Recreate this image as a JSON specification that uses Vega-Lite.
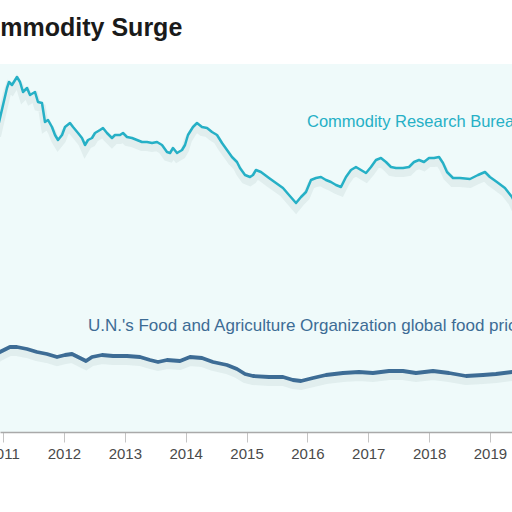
{
  "$schema": "https://vega.github.io/schema/vega-lite/v6.json",
  "autosize": {"type": "none"},
  "width": 512,
  "height": 368,
  "padding": {"top": 64, "left": 0, "right": 0, "bottom": 80},
  "background": "#ffffff",
  "title": {
    "text": "Commodity Surge",
    "anchor": "start",
    "frame": "group",
    "font": "Liberation Sans",
    "fontSize": 25,
    "fontWeight": "bold",
    "color": "#1a1a1a",
    "baseline": "alphabetic",
    "dx": -33,
    "offset": 3
  },
  "config": {
    "view": {"fill": "#effafa", "stroke": null},
    "font": "Liberation Sans"
  },
  "datasets": {
    "series": [
      {"year": 2010.90, "value": 301, "series": "CRB"},
      {"year": 2010.949, "value": 314, "series": "CRB"},
      {"year": 2011.064, "value": 344, "series": "CRB"},
      {"year": 2011.097, "value": 350, "series": "CRB"},
      {"year": 2011.146, "value": 347, "series": "CRB"},
      {"year": 2011.228, "value": 355, "series": "CRB"},
      {"year": 2011.278, "value": 350, "series": "CRB"},
      {"year": 2011.327, "value": 340, "series": "CRB"},
      {"year": 2011.393, "value": 344, "series": "CRB"},
      {"year": 2011.442, "value": 337, "series": "CRB"},
      {"year": 2011.524, "value": 340, "series": "CRB"},
      {"year": 2011.573, "value": 330, "series": "CRB"},
      {"year": 2011.639, "value": 329, "series": "CRB"},
      {"year": 2011.688, "value": 310, "series": "CRB"},
      {"year": 2011.738, "value": 312, "series": "CRB"},
      {"year": 2011.803, "value": 305, "series": "CRB"},
      {"year": 2011.853, "value": 297, "series": "CRB"},
      {"year": 2011.902, "value": 292, "series": "CRB"},
      {"year": 2011.968, "value": 297, "series": "CRB"},
      {"year": 2012.017, "value": 305, "series": "CRB"},
      {"year": 2012.099, "value": 309, "series": "CRB"},
      {"year": 2012.149, "value": 305, "series": "CRB"},
      {"year": 2012.231, "value": 299, "series": "CRB"},
      {"year": 2012.296, "value": 294, "series": "CRB"},
      {"year": 2012.346, "value": 287, "series": "CRB"},
      {"year": 2012.395, "value": 292, "series": "CRB"},
      {"year": 2012.461, "value": 294, "series": "CRB"},
      {"year": 2012.510, "value": 299, "series": "CRB"},
      {"year": 2012.592, "value": 302, "series": "CRB"},
      {"year": 2012.641, "value": 304, "series": "CRB"},
      {"year": 2012.707, "value": 299, "series": "CRB"},
      {"year": 2012.789, "value": 294, "series": "CRB"},
      {"year": 2012.838, "value": 297, "series": "CRB"},
      {"year": 2012.921, "value": 297, "series": "CRB"},
      {"year": 2012.970, "value": 299, "series": "CRB"},
      {"year": 2013.036, "value": 295, "series": "CRB"},
      {"year": 2013.118, "value": 294, "series": "CRB"},
      {"year": 2013.200, "value": 292, "series": "CRB"},
      {"year": 2013.282, "value": 290, "series": "CRB"},
      {"year": 2013.365, "value": 290, "series": "CRB"},
      {"year": 2013.447, "value": 289, "series": "CRB"},
      {"year": 2013.529, "value": 290, "series": "CRB"},
      {"year": 2013.611, "value": 287, "series": "CRB"},
      {"year": 2013.693, "value": 280, "series": "CRB"},
      {"year": 2013.743, "value": 279, "series": "CRB"},
      {"year": 2013.792, "value": 284, "series": "CRB"},
      {"year": 2013.858, "value": 279, "series": "CRB"},
      {"year": 2013.940, "value": 282, "series": "CRB"},
      {"year": 2013.989, "value": 287, "series": "CRB"},
      {"year": 2014.038, "value": 297, "series": "CRB"},
      {"year": 2014.120, "value": 305, "series": "CRB"},
      {"year": 2014.186, "value": 309, "series": "CRB"},
      {"year": 2014.268, "value": 305, "series": "CRB"},
      {"year": 2014.351, "value": 304, "series": "CRB"},
      {"year": 2014.433, "value": 300, "series": "CRB"},
      {"year": 2014.515, "value": 297, "series": "CRB"},
      {"year": 2014.597, "value": 289, "series": "CRB"},
      {"year": 2014.679, "value": 282, "series": "CRB"},
      {"year": 2014.761, "value": 275, "series": "CRB"},
      {"year": 2014.843, "value": 270, "series": "CRB"},
      {"year": 2014.892, "value": 264, "series": "CRB"},
      {"year": 2014.975, "value": 257, "series": "CRB"},
      {"year": 2015.057, "value": 255, "series": "CRB"},
      {"year": 2015.106, "value": 257, "series": "CRB"},
      {"year": 2015.155, "value": 262, "series": "CRB"},
      {"year": 2015.237, "value": 260, "series": "CRB"},
      {"year": 2015.369, "value": 254, "series": "CRB"},
      {"year": 2015.484, "value": 249, "series": "CRB"},
      {"year": 2015.599, "value": 244, "series": "CRB"},
      {"year": 2015.698, "value": 237, "series": "CRB"},
      {"year": 2015.813, "value": 229, "series": "CRB"},
      {"year": 2015.895, "value": 235, "series": "CRB"},
      {"year": 2015.977, "value": 240, "series": "CRB"},
      {"year": 2016.059, "value": 252, "series": "CRB"},
      {"year": 2016.141, "value": 254, "series": "CRB"},
      {"year": 2016.223, "value": 255, "series": "CRB"},
      {"year": 2016.305, "value": 252, "series": "CRB"},
      {"year": 2016.387, "value": 250, "series": "CRB"},
      {"year": 2016.470, "value": 247, "series": "CRB"},
      {"year": 2016.552, "value": 245, "series": "CRB"},
      {"year": 2016.634, "value": 255, "series": "CRB"},
      {"year": 2016.716, "value": 262, "series": "CRB"},
      {"year": 2016.798, "value": 265, "series": "CRB"},
      {"year": 2016.880, "value": 262, "series": "CRB"},
      {"year": 2016.963, "value": 259, "series": "CRB"},
      {"year": 2017.045, "value": 265, "series": "CRB"},
      {"year": 2017.127, "value": 272, "series": "CRB"},
      {"year": 2017.209, "value": 274, "series": "CRB"},
      {"year": 2017.291, "value": 270, "series": "CRB"},
      {"year": 2017.373, "value": 265, "series": "CRB"},
      {"year": 2017.456, "value": 264, "series": "CRB"},
      {"year": 2017.571, "value": 264, "series": "CRB"},
      {"year": 2017.670, "value": 265, "series": "CRB"},
      {"year": 2017.752, "value": 270, "series": "CRB"},
      {"year": 2017.834, "value": 272, "series": "CRB"},
      {"year": 2017.916, "value": 270, "series": "CRB"},
      {"year": 2017.998, "value": 274, "series": "CRB"},
      {"year": 2018.081, "value": 274, "series": "CRB"},
      {"year": 2018.163, "value": 275, "series": "CRB"},
      {"year": 2018.228, "value": 269, "series": "CRB"},
      {"year": 2018.294, "value": 260, "series": "CRB"},
      {"year": 2018.393, "value": 254, "series": "CRB"},
      {"year": 2018.508, "value": 254, "series": "CRB"},
      {"year": 2018.672, "value": 253, "series": "CRB"},
      {"year": 2018.803, "value": 257, "series": "CRB"},
      {"year": 2018.918, "value": 260, "series": "CRB"},
      {"year": 2018.999, "value": 255, "series": "CRB"},
      {"year": 2019.114, "value": 250, "series": "CRB"},
      {"year": 2019.246, "value": 244, "series": "CRB"},
      {"year": 2019.362, "value": 235, "series": "CRB"},
      {"year": 2019.45, "value": 224, "series": "CRB"},
      {"year": 2010.90, "value": 78, "series": "FAO"},
      {"year": 2010.949, "value": 80, "series": "FAO"},
      {"year": 2011.113, "value": 85, "series": "FAO"},
      {"year": 2011.228, "value": 85, "series": "FAO"},
      {"year": 2011.393, "value": 83, "series": "FAO"},
      {"year": 2011.557, "value": 80, "series": "FAO"},
      {"year": 2011.721, "value": 78, "series": "FAO"},
      {"year": 2011.886, "value": 75, "series": "FAO"},
      {"year": 2012.017, "value": 77, "series": "FAO"},
      {"year": 2012.132, "value": 78, "series": "FAO"},
      {"year": 2012.231, "value": 75, "series": "FAO"},
      {"year": 2012.362, "value": 71, "series": "FAO"},
      {"year": 2012.461, "value": 75, "series": "FAO"},
      {"year": 2012.625, "value": 77, "series": "FAO"},
      {"year": 2012.806, "value": 76, "series": "FAO"},
      {"year": 2013.036, "value": 76, "series": "FAO"},
      {"year": 2013.250, "value": 75, "series": "FAO"},
      {"year": 2013.414, "value": 72, "series": "FAO"},
      {"year": 2013.546, "value": 70, "series": "FAO"},
      {"year": 2013.693, "value": 72, "series": "FAO"},
      {"year": 2013.907, "value": 71, "series": "FAO"},
      {"year": 2014.071, "value": 75, "series": "FAO"},
      {"year": 2014.268, "value": 74, "series": "FAO"},
      {"year": 2014.449, "value": 70, "series": "FAO"},
      {"year": 2014.679, "value": 67, "series": "FAO"},
      {"year": 2014.843, "value": 63, "series": "FAO"},
      {"year": 2014.975, "value": 58, "series": "FAO"},
      {"year": 2015.106, "value": 56, "series": "FAO"},
      {"year": 2015.369, "value": 55, "series": "FAO"},
      {"year": 2015.599, "value": 55, "series": "FAO"},
      {"year": 2015.763, "value": 52, "series": "FAO"},
      {"year": 2015.895, "value": 51, "series": "FAO"},
      {"year": 2016.092, "value": 54, "series": "FAO"},
      {"year": 2016.305, "value": 57, "series": "FAO"},
      {"year": 2016.585, "value": 59, "series": "FAO"},
      {"year": 2016.847, "value": 60, "series": "FAO"},
      {"year": 2017.077, "value": 59, "series": "FAO"},
      {"year": 2017.340, "value": 61, "series": "FAO"},
      {"year": 2017.571, "value": 61, "series": "FAO"},
      {"year": 2017.784, "value": 59, "series": "FAO"},
      {"year": 2018.064, "value": 61, "series": "FAO"},
      {"year": 2018.327, "value": 59, "series": "FAO"},
      {"year": 2018.606, "value": 56, "series": "FAO"},
      {"year": 2018.885, "value": 57, "series": "FAO"},
      {"year": 2019.098, "value": 58, "series": "FAO"},
      {"year": 2019.362, "value": 60, "series": "FAO"},
      {"year": 2019.45, "value": 60, "series": "FAO"}
    ],
    "labels": [
      {"year": 2015.993, "value": 310, "label": "Commodity Research Bureau index", "series": "CRB"},
      {"year": 2012.395, "value": 106, "label": "U.N.'s Food and Agriculture Organization global food price index", "series": "FAO"}
    ]
  },
  "encoding": {
    "x": {
      "field": "year",
      "type": "quantitative",
      "scale": {"domain": [2010.949, 2019.362], "nice": false, "zero": false},
      "axis": {
        "title": null,
        "values": [2011, 2012, 2013, 2014, 2015, 2016, 2017, 2018, 2019],
        "format": "d",
        "grid": false,
        "domainColor": "#a9a9a9",
        "domainWidth": 1.5,
        "tickColor": "#c4c4c4",
        "tickSize": 10,
        "tickWidth": 1,
        "labelFontSize": 15,
        "labelColor": "#4a4a4a",
        "labelPadding": 4,
        "labelFlush": false,
        "labelOverlap": false,
        "labelFont": "Liberation Sans"
      }
    },
    "y": {
      "field": "value",
      "type": "quantitative",
      "scale": {"domain": [0, 368], "nice": false},
      "axis": null
    }
  },
  "layer": [
    {
      "data": {"name": "series"},
      "mark": {"type": "line", "clip": true, "color": "#7a9aa0", "opacity": 0.12, "strokeWidth": 8, "yOffset": 5, "interpolate": "linear"},
      "encoding": {"detail": {"field": "series"}}
    },
    {
      "data": {"name": "series"},
      "mark": {"type": "line", "clip": true, "strokeJoin": "round", "strokeCap": "round"},
      "encoding": {
        "color": {
          "field": "series",
          "type": "nominal",
          "scale": {"domain": ["CRB", "FAO"], "range": ["#26b0c6", "#3d6c95"]},
          "legend": null
        },
        "strokeWidth": {
          "field": "series",
          "type": "nominal",
          "scale": {"domain": ["CRB", "FAO"], "range": [2.5, 3.8]},
          "legend": null
        }
      }
    },
    {
      "data": {"name": "labels"},
      "mark": {"type": "text", "align": "left", "baseline": "middle", "font": "Liberation Sans"},
      "encoding": {
        "text": {"field": "label"},
        "size": {
          "field": "series",
          "type": "nominal",
          "scale": {"domain": ["CRB", "FAO"], "range": [16.5, 17]},
          "legend": null
        },
        "color": {
          "field": "series",
          "type": "nominal",
          "scale": {"domain": ["CRB", "FAO"], "range": ["#56bec4", "#6b7f8c"]},
          "legend": null
        }
      }
    }
  ]
}
